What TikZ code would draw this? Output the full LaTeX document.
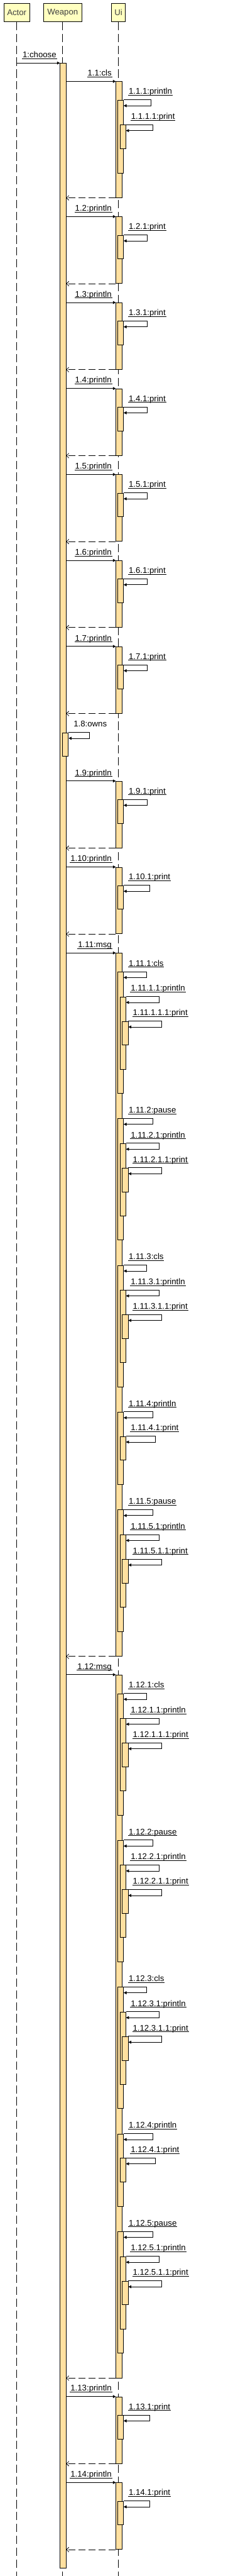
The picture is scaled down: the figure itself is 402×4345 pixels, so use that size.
\documentclass[tikz,border=0pt]{standalone}
\usepackage{fontspec}
\setmainfont{Liberation Sans}
\usetikzlibrary{arrows.meta,calc}

\definecolor{headfill}{RGB}{255,255,192}
\definecolor{actfill}{RGB}{255,224,160}

% underlined message text
\newsavebox{\lblbox}
\newcommand{\ulbl}[1]{\sbox{\lblbox}{#1}\rlap{\kern-1pt\rule[-2pt]{\dimexpr\wd\lblbox+2pt\relax}{0.8pt}}\usebox{\lblbox}}

\begin{document}
\begin{tikzpicture}[x=1pt, y=-1pt,
  every node/.style={font=\fontsize{14pt}{16pt}\selectfont},
  headbox/.style={draw, fill=headfill, text=black!75, inner sep=0pt, minimum height=30.7pt, line width=0.8pt},
  act/.style={draw, fill=actfill, inner sep=0pt, minimum width=9.7pt, anchor=north west, line width=0.8pt},
  lifeline/.style={line width=0.8pt, dash pattern=on 14pt off 6pt},
  call/.style={line width=0.8pt, -{Triangle[length=5pt,width=5pt]}},
  reply/.style={line width=0.8pt, dash pattern=on 12pt off 5pt, -{Straight Barb[length=4pt,width=8pt]}},
  msg/.style={inner sep=0pt, anchor=base east},
  selfmsg/.style={inner sep=0pt, anchor=base west}]
  \useasboundingbox (0,0) rectangle (402,4345);
  \coordinate (bottom) at (0,4345);

  % Heads and lifelines
  \node[headbox, minimum width=44pt] (actor) at (28.3,21.3) {Actor};
  \node[headbox, minimum width=64pt] (weapon) at (105.8,21.3) {Weapon};
  \node[headbox, minimum width=23pt] (ui) at (200.1,21.3) {Ui};
  \draw[lifeline] (actor.south) -- (actor.south |- bottom);
  \draw[lifeline] (weapon.south) -- (weapon.south |- bottom);
  \draw[lifeline] (ui.south) -- (ui.south |- bottom);

  % Weapon activation
  \node[act, minimum height=4224.7pt] (wact) at (101.3,106.3) {};
  \draw[call] (actor.south |- wact.north) -- (wact.north west);
  \node[msg] (m1) at ($(wact.north west)+(-6,-9.3)$) {\ulbl{1:choose}};

  % 1.1 cls
  \node[act, minimum height=195.7pt] (ui1) at (195.7,137.3) {};
  \node[act, minimum height=123.4pt] (ui1a) at (198.3,168.3) {};
  \node[act, minimum height=39.7pt] (ui1b) at (202.3,210.3) {};
  \draw[call] (wact.east |- ui1.north) -- (ui1.north west);
  \node[msg] (m1x1) at ($(ui1.north west)+(-7,-9.3)$) {\ulbl{1.1:cls}};
  \draw[call] (ui1a.north east) -- ++(45.7,0) -- ++(0,10) -- ([yshift=-10pt]ui1a.north east);
  \node[selfmsg] (m1x1a) at ($(ui1a.north east)+(8.5,-9.3)$) {\ulbl{1.1.1:println}};
  \draw[call] (ui1b.north east) -- ++(45.7,0) -- ++(0,10) -- ([yshift=-10pt]ui1b.north east);
  \node[selfmsg] (m1x1b) at ($(ui1b.north east)+(8.5,-9.3)$) {\ulbl{1.1.1.1:print}};
  \draw[reply] (ui1.south west) -- (wact.east |- ui1.south);

  % println calls with one print
  \foreach \n/\y/\dx in {2/365.3/39.7, 3/510.3/39.7, 4/655.3/39.7, 5/800.3/39.7,
      6/945.3/39.7, 7/1090.3/39.7, 9/1317.3/39.7, 10/1462.3/43.7,
      13/4042.3/43.7, 14/4187.3/43.7} {
    \node[act, minimum height=112.4pt] (ui\n) at (195.7,\y) {};
    \node[act, minimum height=40pt] (pr\n) at (198.3,\y+31) {};
    \draw[call] (wact.east |- ui\n.north) -- (ui\n.north west);
    \node[msg] (m\n) at ($(ui\n.north west)+(-7,-9.3)$) {\ulbl{1.\n:println}};
    \draw[call] (pr\n.north east) -- ++(\dx,0) -- ++(0,10) -- ([yshift=-10pt]pr\n.north east);
    \node[selfmsg] (mp\n) at ($(pr\n.north east)+(8.5,-9.3)$) {\ulbl{1.\n.1:print}};
    \draw[reply] (ui\n.south west) -- (wact.east |- ui\n.south);
  }

  % 1.8 owns
  \node[act, minimum height=40pt] (own) at (105.3,1235.3) {};
  \draw[call] (own.north east) -- ++(35.7,0) -- ++(0,10) -- ([yshift=-10pt]own.north east);
  \node[selfmsg] (m8) at ($(own.north east)+(8.5,-9.3)$) {1.8:owns};

  % 1.11 and 1.12 msg
  \foreach \m/\y in {11/1607.3, 12/2824.7} {
    \node[act, minimum height=1185.7pt] (ui\m) at (195.7,\y) {};
    \draw[call] (wact.east |- ui\m.north) -- (ui\m.north west);
    \node[msg] (m\m) at ($(ui\m.north west)+(-7,-9.3)$) {\ulbl{1.\m:msg}};
    % cls / pause with println and print inside
    \foreach \k/\o/\op/\dx in {1/31.5/cls/38.7, 2/279/pause/49.7, 3/526.5/cls/38.7, 5/939/pause/49.7} {
      \node[act, minimum height=205pt] (c\m x\k) at (198.3,\y+\o) {};
      \node[act, minimum height=122pt] (c\m x\k a) at (202.3,\y+\o+42) {};
      \node[act, minimum height=40pt] (c\m x\k b) at (206.3,\y+\o+83.4) {};
      \draw[call] (c\m x\k.north east) -- ++(\dx,0) -- ++(0,10) -- ([yshift=-10pt]c\m x\k.north east);
      \node[selfmsg] (l\m x\k) at ($(c\m x\k.north east)+(8.5,-9.3)$) {\ulbl{1.\m.\k:\op}};
      \draw[call] (c\m x\k a.north east) -- ++(55.7,0) -- ++(0,10) -- ([yshift=-10pt]c\m x\k a.north east);
      \node[selfmsg] (l\m x\k a) at ($(c\m x\k a.north east)+(8,-9.3)$) {\ulbl{1.\m.\k.1:println}};
      \draw[call] (c\m x\k b.north east) -- ++(55.7,0) -- ++(0,10) -- ([yshift=-10pt]c\m x\k b.north east);
      \node[selfmsg] (l\m x\k b) at ($(c\m x\k b.north east)+(7.5,-9.3)$) {\ulbl{1.\m.\k.1.1:print}};
    }
    % println with print inside
    \node[act, minimum height=122pt] (c\m x4) at (198.3,\y+774) {};
    \node[act, minimum height=40pt] (c\m x4a) at (202.3,\y+815) {};
    \draw[call] (c\m x4.north east) -- ++(49.7,0) -- ++(0,10) -- ([yshift=-10pt]c\m x4.north east);
    \node[selfmsg] (l\m x4) at ($(c\m x4.north east)+(8.5,-9.3)$) {\ulbl{1.\m.4:println}};
    \draw[call] (c\m x4a.north east) -- ++(49.7,0) -- ++(0,10) -- ([yshift=-10pt]c\m x4a.north east);
    \node[selfmsg] (l\m x4a) at ($(c\m x4a.north east)+(8,-9.3)$) {\ulbl{1.\m.4.1:print}};
    \draw[reply] (ui\m.south west) -- (wact.east |- ui\m.south);
  }
\end{tikzpicture}
\end{document}
